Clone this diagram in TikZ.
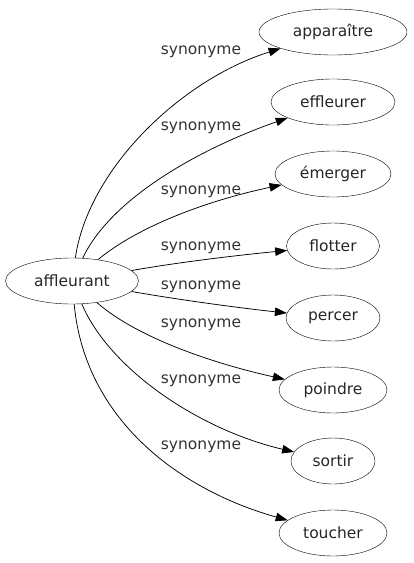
\documentclass[tikz,border=0pt]{standalone}
\usepackage{fontspec}
\setmainfont{DejaVu Sans}
\usetikzlibrary{arrows.meta,shapes.geometric}
\tikzset{
  word/.style={draw, ellipse, inner sep=1pt, minimum height=46pt, text=black!85, font=\fontsize{15.5}{18}\selectfont},
  lbl/.style={font=\fontsize{15.5}{18}\selectfont, text=black!80, inner sep=0pt},
  syn/.style={-{Triangle[length=12pt,width=8.5pt]}, line width=0.75pt}
}
\begin{document}
\begin{tikzpicture}[x=1pt,y=-1pt]
\useasboundingbox (0,0) rectangle (413,563);
\node[word, minimum width=133pt] (src) at (72,281) {affleurant};
\node[word, minimum width=148pt] (t1) at (333,32) {apparaître};
\node[word, minimum width=124pt] (t2) at (333,102) {effleurer};
\node[word, minimum width=116pt] (t3) at (333,174) {émerger};
\node[word, minimum width=93pt] (t4) at (333,246) {flotter};
\node[word, minimum width=94pt] (t5) at (333,318) {percer};
\node[word, minimum width=108pt] (t6) at (333,390) {poindre};
\node[word, minimum width=84pt] (t7) at (333,461) {sortir};
\node[word, minimum width=108pt] (t8) at (333,533) {toucher};
\draw[syn] (src) .. controls (88,170) and (180,80) .. (t1);
\draw[syn] (src) .. controls (110,200) and (196,150) .. (t2);
\draw[syn] (src) .. controls (140,225) and (210,200) .. (t3);
\draw[syn] (src) .. controls (180,262) and (240,255) .. (t4);
\draw[syn] (src) .. controls (180,300) and (240,308) .. (t5);
\draw[syn] (src) .. controls (140,340) and (220,365) .. (t6);
\draw[syn] (src) .. controls (110,370) and (200,430) .. (t7);
\draw[syn] (src) .. controls (85,420) and (180,490) .. (t8);
\node[lbl] (l1) at (201,52) {synonyme};
\node[lbl] (l2) at (201,128) {synonyme};
\node[lbl] (l3) at (201,192) {synonyme};
\node[lbl] (l4) at (201,248) {synonyme};
\node[lbl] (l5) at (201,287) {synonyme};
\node[lbl] (l6) at (201,325) {synonyme};
\node[lbl] (l7) at (201,381) {synonyme};
\node[lbl] (l8) at (201,447) {synonyme};
\end{tikzpicture}
\end{document}
